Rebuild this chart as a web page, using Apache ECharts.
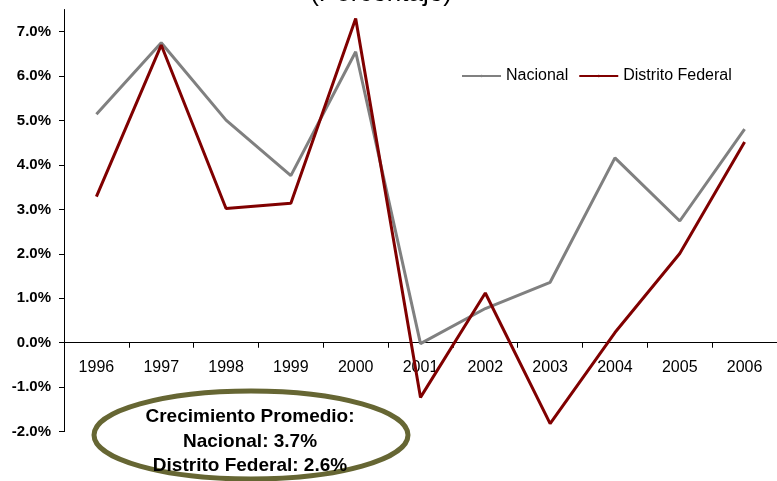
<!DOCTYPE html>
<html>
<head>
<meta charset="utf-8">
<script src="https://cdn.jsdelivr.net/npm/echarts@6/dist/echarts.min.js"></script>
<style>
html,body{margin:0;padding:0;background:#fff;}
#chart{width:777px;height:481px;}
</style>
</head>
<body>
<div id="chart"></div>
<script>
const years = ['1996','1997','1998','1999','2000','2001','2002','2003','2004','2005','2006'];
const nacional = [5.14, 6.75, 5.01, 3.76, 6.55, -0.02, 0.77, 1.36, 4.16, 2.74, 4.81];
const distritoFederal = [3.29, 6.70, 3.02, 3.14, 7.30, -1.23, 1.12, -1.82, 0.23, 2.01, 4.52];
const yTicks = [-2, -1, 0, 1, 2, 3, 4, 5, 6, 7];
const titleText = '(Porcentaje)';
const noteLines = ['Crecimiento Promedio:', 'Nacional: 3.7%', 'Distrito Federal: 2.6%'];

const chart = echarts.init(document.getElementById('chart'));
const FONT = '"Liberation Sans", Arial, sans-serif';
const yMin = -2, yMax = 7.5, gridTop = 9.5, gridH = 422.1;
// x axis sits at value 0: shift it up from the grid bottom by the distance from yMin to 0
const zeroOffset = -gridH * (0 - yMin) / (yMax - yMin);

chart.setOption({
  animation: false,
  backgroundColor: '#ffffff',
  grid: { left: 64, top: gridTop, width: 724, height: gridH, containLabel: false },
  legend: {
    left: 456, top: 63,
    itemWidth: 39, itemHeight: 3, itemGap: 10,
    textStyle: { fontFamily: FONT, fontSize: 16, color: '#000' },
    data: ['Nacional', 'Distrito Federal']
  },
  xAxis: {
    type: 'category',
    data: years,
    position: 'bottom',
    offset: zeroOffset,
    boundaryGap: true,
    axisLine: { onZero: false, lineStyle: { color: '#000', width: 1 } },
    axisTick: { show: true, length: 5, lineStyle: { color: '#000' } },
    axisLabel: { interval: 0, margin: 17, fontFamily: FONT, fontSize: 16, color: '#000' },
    splitLine: { show: false }
  },
  yAxis: {
    type: 'value',
    min: yMin, max: yMax, interval: 1,
    axisLine: { show: true, onZero: false, lineStyle: { color: '#000', width: 1 } },
    axisTick: { show: true, length: 5, customValues: yTicks, lineStyle: { color: '#000' } },
    axisLabel: {
      customValues: yTicks,
      margin: 13, fontFamily: FONT, fontSize: 15, fontWeight: 'bold', color: '#000',
      formatter: v => v.toFixed(1) + '%'
    },
    splitLine: { show: false }
  },
  series: [
    {
      name: 'Nacional', type: 'line', data: nacional,
      symbol: 'none', lineStyle: { color: '#808080', width: 3 }, itemStyle: { color: '#808080' }
    },
    {
      name: 'Distrito Federal', type: 'line', data: distritoFederal,
      symbol: 'none', lineStyle: { color: '#800000', width: 3 }, itemStyle: { color: '#800000' }
    }
  ],
  graphic: [
    {
      type: 'text', x: 381, y: -19, z: 10,
      style: { text: titleText, align: 'center', verticalAlign: 'top', fontFamily: FONT, fontSize: 26, fontWeight: 'normal', fill: '#000' }
    },
    {
      type: 'ellipse', z: 10,
      shape: { cx: 251, cy: 435, rx: 157, ry: 44 },
      style: { fill: 'none', stroke: '#666633', lineWidth: 5 }
    },
    {
      type: 'text', x: 250, y: 405, z: 11,
      style: {
        text: noteLines.join('\n'), align: 'center', verticalAlign: 'top',
        fontFamily: FONT, fontSize: 19, fontWeight: 'bold', lineHeight: 24.5, fill: '#000'
      }
    }
  ]
});
</script>
</body>
</html>
